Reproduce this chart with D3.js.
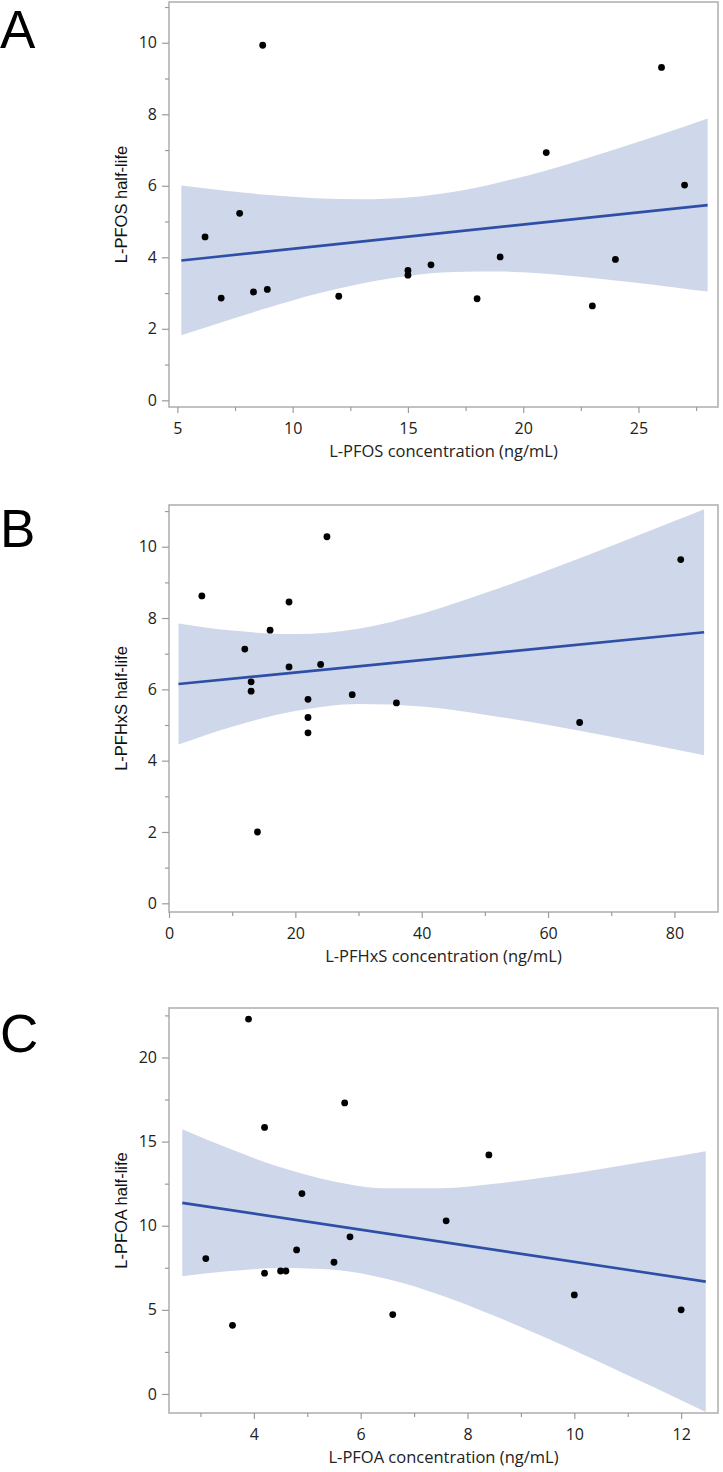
<!DOCTYPE html>
<html>
<head>
<meta charset="utf-8">
<script src="https://cdn.jsdelivr.net/npm/d3@7"></script>
<style>
  body { margin: 0; background: #fff; }
  .tick text { font-family: "Open Sans", "Noto Sans", sans-serif; font-size: 16px; fill: #222; }
  .tick line { stroke: #9c9c9c; stroke-width: 1.2; }
  .domain { display: none; }
  .axisTitleX { font-family: "Open Sans", "Noto Sans", sans-serif; font-size: 16.5px; fill: #222; }
  .axisTitleY { font-family: "Liberation Sans", Arial, sans-serif; font-size: 16.5px; fill: #111; }
  .panelLetter { font-family: "Liberation Sans", Arial, sans-serif; font-size: 53px; fill: #000; }
</style>
</head>
<body>
<script>
/********************************************************/
// Panel A: L-PFOS
const pfosConc = [6.2, 6.9, 7.7, 8.3, 8.7, 8.9, 12, 15, 15, 16, 18, 19, 21, 23, 24, 26, 27];
const pfosHalf = [4.57, 2.86, 5.23, 3.03, 9.93, 3.1, 2.91, 3.63, 3.5, 3.79, 2.84, 4.01, 6.93, 2.64, 3.94, 9.31, 6.02];
const pfosFitX = [5.17, 28.0];
const pfosFitY = [3.91, 5.46];
const pfosBandX = [5.17, 7, 9, 11, 13, 15, 17, 19, 21, 23, 25, 27, 28];
const pfosBandLo = [1.82, 2.2, 2.6, 2.97, 3.27, 3.48, 3.59, 3.6, 3.54, 3.42, 3.28, 3.12, 3.04];
const pfosBandHi = [6.01, 5.87, 5.74, 5.65, 5.62, 5.67, 5.83, 6.1, 6.43, 6.82, 7.23, 7.66, 7.88];
const pfosXTicks = [5, 10, 15, 20, 25];
const pfosXMinor = [7.5, 12.5, 17.5, 22.5, 27.5];
const pfosYTicks = [0, 2, 4, 6, 8, 10];
const pfosYMinor = [1, 3, 5, 7, 9, 11];

// Panel B: L-PFHxS
const pfhxsConc = [5.2, 12, 13, 13, 14, 16, 19, 19, 22, 22, 22, 24, 25, 29, 36, 65, 81];
const pfhxsHalf = [8.62, 7.13, 6.21, 5.95, 2.0, 7.66, 8.45, 6.63, 5.72, 5.21, 4.78, 6.7, 10.28, 5.85, 5.62, 5.07, 9.64];
const pfhxsFitX = [1.5, 84.7];
const pfhxsFitY = [6.15, 7.6];
const pfhxsBandX = [1.5, 10, 20, 30, 40, 50, 60, 70, 80, 84.7];
const pfhxsBandLo = [4.45, 4.95, 5.39, 5.59, 5.52, 5.29, 5.0, 4.67, 4.32, 4.15];
const pfhxsBandHi = [7.85, 7.65, 7.55, 7.7, 8.12, 8.7, 9.34, 10.02, 10.72, 11.05];
const pfhxsXTicks = [0, 20, 40, 60, 80];
const pfhxsXMinor = [10, 30, 50, 70];
const pfhxsYTicks = [0, 2, 4, 6, 8, 10];
const pfhxsYMinor = [1, 3, 5, 7, 9, 11];

// Panel C: L-PFOA
const pfoaConc = [3.1, 3.6, 3.9, 4.2, 4.2, 4.5, 4.6, 4.8, 4.9, 5.5, 5.7, 5.8, 6.6, 7.6, 8.4, 10, 12];
const pfoaHalf = [8.05, 4.08, 22.28, 15.84, 7.18, 7.31, 7.31, 8.56, 11.91, 7.83, 17.3, 9.34, 4.72, 10.29, 14.21, 5.89, 5.0];
const pfoaFitX = [2.66, 12.46];
const pfoaFitY = [11.36, 6.68];
const pfoaBandX = [2.66, 3.5, 4.5, 5.5, 6.5, 7.5, 8.5, 9.5, 10.5, 11.5, 12.46];
const pfoaBandLo = [6.99, 7.29, 7.49, 7.38, 6.83, 5.87, 4.65, 3.3, 1.86, 0.38, -1.07];
const pfoaBandHi = [15.73, 14.63, 13.47, 12.63, 12.22, 12.22, 12.49, 12.89, 13.37, 13.9, 14.43];
const pfoaXTicks = [4, 6, 8, 10, 12];
const pfoaXMinor = [3, 5, 7, 9, 11];
const pfoaYTicks = [0, 5, 10, 15, 20];
const pfoaYMinor = [2.5, 7.5, 12.5, 17.5, 22.5];
/********************************************************/
const svgWidth = 723;
const svgHeight = 1472;

const svg = d3.select("body").append("svg").attr("width", svgWidth).attr("height", svgHeight);

const panels = [
  {
    letter: "A", top: 2, bottom: 407, letterY: 48,
    xDomain: [4.636, 28.45], yDomain: [-0.187, 11.14],
    conc: pfosConc, half: pfosHalf, fitX: pfosFitX, fitY: pfosFitY,
    bandX: pfosBandX, bandLo: pfosBandLo, bandHi: pfosBandHi,
    xTicks: pfosXTicks, xMinor: pfosXMinor, yTicks: pfosYTicks, yMinor: pfosYMinor,
    xTitle: "L-PFOS concentration (ng/mL)", yTitle: "L-PFOS half-life",
  },
  {
    letter: "B", top: 505, bottom: 912, letterY: 547,
    xDomain: [0, 86.9], yDomain: [-0.244, 11.17],
    conc: pfhxsConc, half: pfhxsHalf, fitX: pfhxsFitX, fitY: pfhxsFitY,
    bandX: pfhxsBandX, bandLo: pfhxsBandLo, bandHi: pfhxsBandHi,
    xTicks: pfhxsXTicks, xMinor: pfhxsXMinor, yTicks: pfhxsYTicks, yMinor: pfhxsYMinor,
    xTitle: "L-PFHxS concentration (ng/mL)", yTitle: "L-PFHxS half-life",
  },
  {
    letter: "C", top: 1008, bottom: 1413, letterY: 1052,
    xDomain: [2.411, 12.69], yDomain: [-1.13, 22.94],
    conc: pfoaConc, half: pfoaHalf, fitX: pfoaFitX, fitY: pfoaFitY,
    bandX: pfoaBandX, bandLo: pfoaBandLo, bandHi: pfoaBandHi,
    xTicks: pfoaXTicks, xMinor: pfoaXMinor, yTicks: pfoaYTicks, yMinor: pfoaYMinor,
    xTitle: "L-PFOA concentration (ng/mL)", yTitle: "L-PFOA half-life",
  },
];

const frameLeft = 169;
const frameRight = 718;

panels.forEach(drawPanel);

function drawPanel(p) {
  const x = d3.scaleLinear().domain(p.xDomain).range([frameLeft, frameRight]);
  const y = d3.scaleLinear().domain(p.yDomain).range([p.bottom, p.top]);
  const g = svg.append("g");

  // confidence band
  const band = p.bandX.map((v, i) => ({ x: v, lo: p.bandLo[i], hi: p.bandHi[i] }));
  g.append("path")
    .datum(band)
    .attr("fill", "#cfd8ea")
    .attr("d", d3.area().curve(d3.curveMonotoneX)
      .x((d) => x(d.x)).y0((d) => y(d.lo)).y1((d) => y(d.hi)));

  // fit line
  const fit = p.fitX.map((v, i) => ({ x: v, y: p.fitY[i] }));
  g.append("path")
    .datum(fit)
    .attr("fill", "none")
    .attr("stroke", "#2f4fa6")
    .attr("stroke-width", 2.6)
    .attr("d", d3.line().x((d) => x(d.x)).y((d) => y(d.y)));

  // points
  const pts = p.conc.map((v, i) => ({ x: v, y: p.half[i] }));
  g.selectAll(".pt")
    .data(pts)
    .enter()
    .append("circle")
    .attr("cx", (d) => x(d.x))
    .attr("cy", (d) => y(d.y))
    .attr("r", 3.4)
    .attr("fill", "#000");

  // frame
  g.append("rect")
    .attr("x", frameLeft)
    .attr("y", p.top)
    .attr("width", frameRight - frameLeft)
    .attr("height", p.bottom - p.top)
    .attr("fill", "none")
    .attr("stroke", "#b2b2b2")
    .attr("stroke-width", 1.6);

  // axes
  g.append("g")
    .attr("transform", `translate(0, ${p.bottom})`)
    .call(d3.axisBottom(x).tickValues(p.xTicks).tickFormat(d3.format("d")).tickSize(6).tickPadding(10).tickSizeOuter(0));
  g.append("g")
    .attr("transform", `translate(0, ${p.bottom})`)
    .call(d3.axisBottom(x).tickValues(p.xMinor).tickFormat("").tickSize(4).tickSizeOuter(0));
  g.append("g")
    .attr("transform", `translate(${frameLeft}, 0)`)
    .call(d3.axisLeft(y).tickValues(p.yTicks).tickFormat(d3.format("d")).tickSize(7).tickPadding(5).tickSizeOuter(0));
  g.append("g")
    .attr("transform", `translate(${frameLeft}, 0)`)
    .call(d3.axisLeft(y).tickValues(p.yMinor).tickFormat("").tickSize(4).tickSizeOuter(0));

  // titles
  g.append("text")
    .attr("class", "axisTitleX")
    .attr("x", (frameLeft + frameRight) / 2)
    .attr("y", p.bottom + 50)
    .attr("text-anchor", "middle")
    .text(p.xTitle);

  g.append("text")
    .attr("class", "axisTitleY")
    .attr("text-anchor", "middle")
    .attr("transform", `translate(127, ${(p.top + p.bottom) / 2}) rotate(-90)`)
    .text(p.yTitle);

  g.append("text")
    .attr("class", "panelLetter")
    .attr("x", 0)
    .attr("y", p.letterY)
    .text(p.letter);
}
</script>
</body>
</html>
